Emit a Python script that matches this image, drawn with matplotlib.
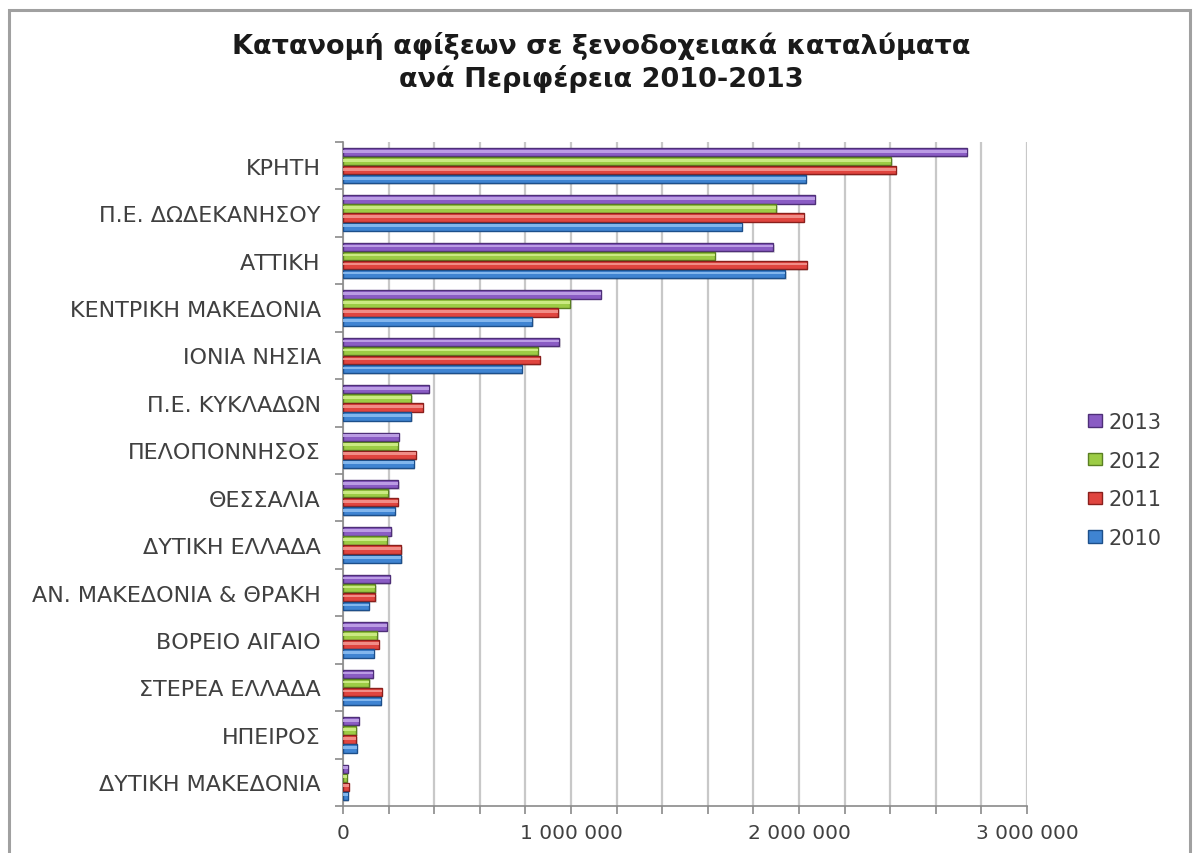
import matplotlib
matplotlib.use("Agg")
import matplotlib.pyplot as plt
from matplotlib.patches import Patch, Rectangle
from matplotlib.ticker import MultipleLocator, FuncFormatter
import numpy as np

# Regions, listed from top to bottom as shown
regions = [
    "ΚΡΗΤΗ",
    "Π.Ε. ΔΩΔΕΚΑΝΗΣΟΥ",
    "ΑΤΤΙΚΗ",
    "ΚΕΝΤΡΙΚΗ ΜΑΚΕΔΟΝΙΑ",
    "ΙΟΝΙΑ ΝΗΣΙΑ",
    "Π.Ε. ΚΥΚΛΑΔΩΝ",
    "ΠΕΛΟΠΟΝΝΗΣΟΣ",
    "ΘΕΣΣΑΛΙΑ",
    "ΔΥΤΙΚΗ ΕΛΛΑΔΑ",
    "ΑΝ. ΜΑΚΕΔΟΝΙΑ & ΘΡΑΚΗ",
    "ΒΟΡΕΙΟ ΑΙΓΑΙΟ",
    "ΣΤΕΡΕΑ ΕΛΛΑΔΑ",
    "ΗΠΕΙΡΟΣ",
    "ΔΥΤΙΚΗ ΜΑΚΕΔΟΝΙΑ",
]

# Hotel arrivals per year
arrivals_2010 = [2030000, 1750000, 1940000, 830000, 785000, 300000, 310000,
                 228000, 255000, 112000, 135000, 165000, 60000, 21000]
arrivals_2011 = [2425000, 2020000, 2035000, 945000, 862000, 350000, 318000,
                 240000, 255000, 142000, 158000, 170000, 58000, 26000]
arrivals_2012 = [2405000, 1900000, 1632000, 995000, 855000, 300000, 240000,
                 198000, 192000, 142000, 150000, 115000, 58000, 17000]
arrivals_2013 = [2735000, 2068000, 1888000, 1130000, 948000, 375000, 245000,
                 242000, 212000, 205000, 192000, 130000, 68000, 20000]

years = ["2013", "2012", "2011", "2010"]
series = [arrivals_2013, arrivals_2012, arrivals_2011, arrivals_2010]
colors = ["#8a5cc4", "#9ccc45", "#e0453f", "#3f84d2"]
edges = ["#4e2f78", "#5a7f22", "#8a1f1c", "#1d4f8a"]
highlights = ["#c4a8ea", "#d4f08e", "#f59a95", "#8fc0f2"]

plt.rcParams["font.family"] = ["DejaVu Sans"]

fig = plt.figure(figsize=(11.93, 8.54), dpi=100)
fig.patch.set_facecolor("white")

# Outer chart frame
fig.add_artist(Rectangle((9 / 1193, -0.05), (1190 - 9) / 1193, 1.05 - 11 / 854,
                         transform=fig.transFigure, fill=False,
                         edgecolor="#a0a0a0", linewidth=2.2, clip_on=False))

ax = fig.add_axes([343 / 1193, 47 / 854, (1027 - 343) / 1193, (807 - 143) / 854])

n = len(regions)
ypos = np.arange(n)[::-1]
offsets = [0.285, 0.095, -0.095, -0.285]
h = 0.175

for vals, off, c, ec, hl in zip(series, offsets, colors, edges, highlights):
    y = ypos + off
    # soft shadow beneath each bar
    ax.barh(y - 0.035, vals, height=h, left=6000, color="#000000", alpha=0.12,
            linewidth=0, zorder=2)
    ax.barh(y, vals, height=h, color=c, edgecolor=ec, linewidth=1.0, zorder=3)
    # glossy highlight strip
    ax.barh(y + h * 0.12, vals, height=h * 0.32, color=hl, alpha=0.85,
            linewidth=0, zorder=4)

ax.set_xlim(0, 3000000)
ax.set_ylim(-0.5, n - 0.5)

ax.xaxis.set_major_locator(MultipleLocator(1000000))
ax.xaxis.set_minor_locator(MultipleLocator(200000))
ax.xaxis.set_major_formatter(
    FuncFormatter(lambda v, p: f"{int(v):,}".replace(",", " ")))
ax.grid(axis="x", which="both", color="#c8c8c8", linewidth=1.6, zorder=0)
ax.set_axisbelow(True)

ax.set_yticks(ypos)
ax.set_yticklabels(regions)
ax.set_yticks(np.arange(-0.5, n, 1.0), minor=True)
ax.tick_params(axis="y", which="major", length=0, pad=16, labelsize=16,
               labelcolor="#404040")
ax.tick_params(axis="y", which="minor", length=6, color="#8a8a8a", width=1.2)
ax.tick_params(axis="x", which="both", length=6, color="#8a8a8a", width=1.2,
               labelsize=14.5, labelcolor="#404040", pad=6)

for side in ("top", "right"):
    ax.spines[side].set_visible(False)
for side in ("left", "bottom"):
    ax.spines[side].set_color("#8a8a8a")
    ax.spines[side].set_linewidth(1.2)

fig.text(0.504, 1 - 46 / 854,
         "Κατανομή αφίξεων σε ξενοδοχειακά καταλύματα",
         ha="center", va="center", fontsize=19.5, fontweight="bold",
         color="#1a1a1a")
fig.text(0.504, 1 - 79 / 854, "ανά Περιφέρεια 2010-2013",
         ha="center", va="center", fontsize=19.5, fontweight="bold",
         color="#1a1a1a")

handles = [Patch(facecolor=c, edgecolor=ec, linewidth=1.0)
           for c, ec in zip(colors, edges)]
fig.legend(handles, years, loc="upper left",
           bbox_to_anchor=(1069 / 1193, 1 - 394 / 854), frameon=False,
           fontsize=15, labelspacing=0.9, handlelength=0.7,
           handleheight=0.55, handletextpad=0.3, labelcolor="#404040")

fig.savefig("out.png", dpi=100, facecolor="white")
